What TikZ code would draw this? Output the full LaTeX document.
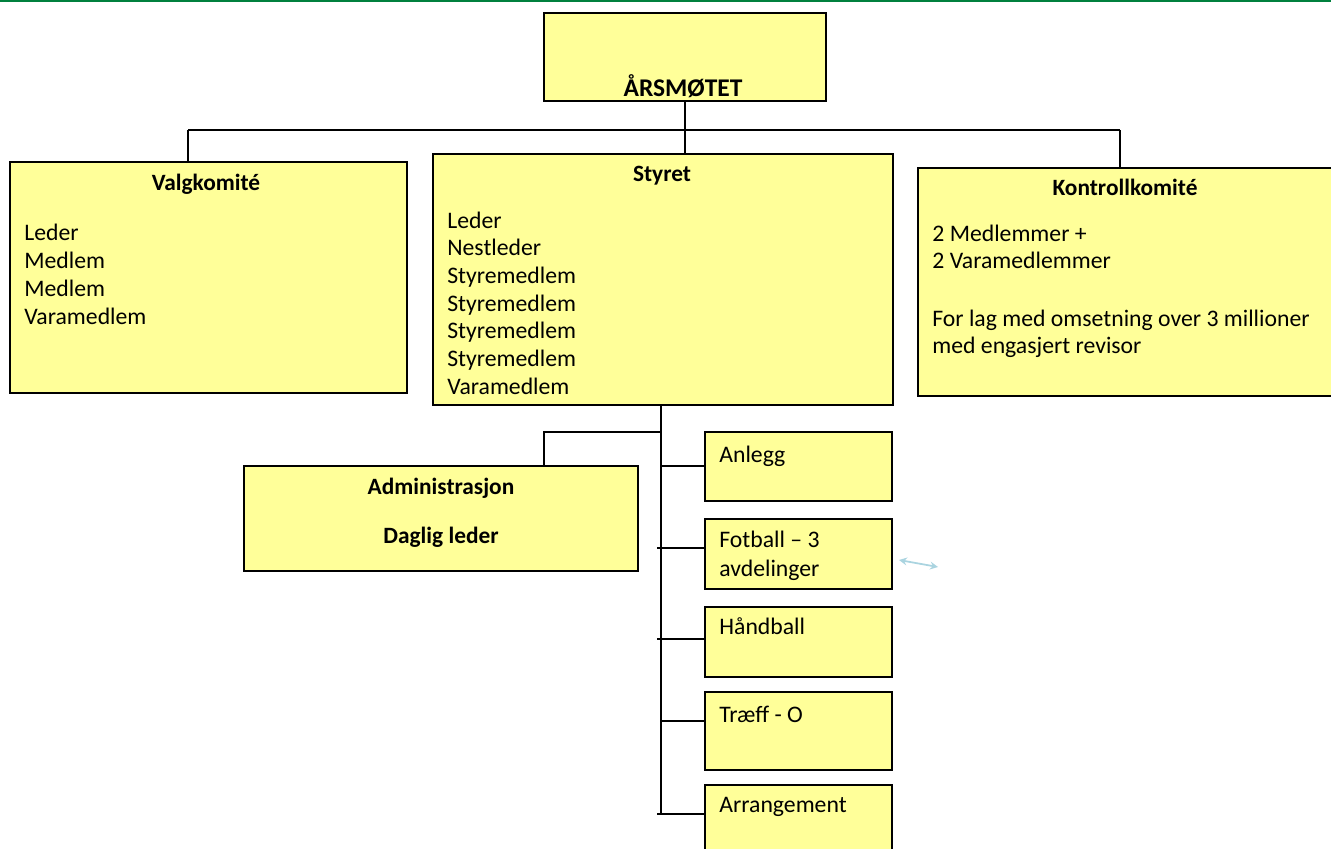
\documentclass[tikz,border=0pt]{standalone}
\usepackage{fontspec}
\setmainfont{Carlito}
\usepackage{tikz}

\definecolor{boxyellow}{RGB}{255,255,153}
\definecolor{topgreen}{RGB}{0,128,62}
\definecolor{faintblue}{RGB}{170,212,224}

\tikzset{
	box/.style={shape=rectangle,draw=black,fill=boxyellow,line width=1.2pt,inner sep=0pt},
	title/.style={anchor=base,inner sep=0pt,font=\fontsize{13.3}{16}\selectfont\bfseries},
	item/.style={anchor=base west,inner sep=0pt,font=\fontsize{13.5}{16}\selectfont},
	link/.style={draw=black,line width=1.2pt}
}

\begin{document}
\begin{tikzpicture}[x=0.02cm,y=-0.02cm]
	
	\useasboundingbox (0,0) rectangle (1331,848);
	\clip (0,0) rectangle (1331,848);
	\fill[topgreen] (0,0) rectangle (1331,2);
	
	% boxes
	\node[box,minimum width=5.64cm,minimum height=1.76cm] (aars) at (685,57) {};
	\node[box,minimum width=7.94cm,minimum height=4.62cm] (velg) at (208.5,277.5) {};
	\node[box,minimum width=9.2cm,minimum height=5.02cm] (styret) at (663,279.5) {};
	\node[box,minimum width=8.44cm,minimum height=4.56cm] (kontroll) at (1129,282) {};
	\node[box,minimum width=7.88cm,minimum height=2.1cm] (admin) at (441,518.5) {};
	\node[box,minimum width=3.74cm,minimum height=1.38cm] (anlegg) at (798.5,466.5) {};
	\node[box,minimum width=3.74cm,minimum height=1.4cm] (fotball) at (798.5,554) {};
	\node[box,minimum width=3.74cm,minimum height=1.4cm] (handball) at (798.5,642) {};
	\node[box,minimum width=3.74cm,minimum height=1.56cm] (traeff) at (798.5,731) {};
	\node[box,minimum width=3.74cm,minimum height=1.7cm] (arrang) at (798.5,827.5) {};
	
	% texts
	\node[title,font=\fontsize{14.5}{17}\selectfont\bfseries] (aars-t) at (683,96) {ÅRSMØTET};
	\node[title] (velg-t) at (206,190) {Valgkomité};
	\node[title] (styret-t) at (662,181) {Styret};
	\node[title] (kontroll-t) at (1125,195) {Kontrollkomité};
	\node[title] (admin-t) at (441,494) {Administrasjon};
	\node[title] (admin-l) at (441,543) {Daglig leder};
	
	\foreach \t [count=\i] in {Leder,Medlem,Medlem,Varamedlem}
		\node[item] (velg-\i) at (24,{240+28*(\i-1)}) {\t};
	\foreach \t [count=\i] in {Leder,Nestleder,Styremedlem,Styremedlem,Styremedlem,Styremedlem,Varamedlem}
		\node[item] (styret-\i) at (447,{228+27.7*(\i-1)}) {\t};
	
	\node[item] (kontroll-1) at (932,241.7) {2 Medlemmer +};
	\node[item] (kontroll-2) at (932,268) {2 Varamedlemmer};
	\node[item] (kontroll-3) at (932,326.7) {For lag med omsetning over 3 millioner};
	\node[item] (kontroll-4) at (932,353) {med engasjert revisor};
	
	\node[item] (anlegg-t) at (719,462) {Anlegg};
	\node[item] (fotball-t) at (719,547) {Fotball – 3};
	\node[item] (fotball-u) at (719,576) {avdelinger};
	\node[item] (handball-t) at (719,634) {Håndball};
	\node[item] (traeff-t) at (719,722) {Træff - O};
	\node[item] (arrang-t) at (719,812) {Arrangement};
	
	% connectors
	\coordinate (bar-l) at (188,130);
	\coordinate (bar-r) at (1120,130);
	\coordinate (bar-m) at (685,130);
	\path[link] (bar-l) -- (bar-r);
	\path[link] (aars.south) -- (bar-m);
	\path[link] (bar-m) -- (bar-m |- styret.north);
	\path[link] (bar-l) -- (bar-l |- velg.north);
	\path[link] (bar-r) -- (bar-r |- kontroll.north);
	
	\coordinate (spine-top) at (661,405);
	\coordinate (spine-end) at (661,815);
	\coordinate (adm-j) at (661,432);
	\coordinate (adm-k) at (544,432);
	\path[link] (spine-top) -- (spine-end);
	\path[link] (adm-j) -- (adm-k) -- (adm-k |- admin.north);
	
	\foreach \n/\x/\y in {anlegg/661/466,fotball/657/548,handball/657/639,traeff/661/721,arrang/657/814}{
		\coordinate (tap-\n) at (\x,\y);
		\path[link] (tap-\n) -- (tap-\n -| \n.west);
	}
	
	\coordinate (hint-a) at (899,560);
	\coordinate (hint-b) at (938,567);
	\draw[faintblue,line width=1pt,<->,>=stealth] (hint-a) -- (hint-b);
	
\end{tikzpicture}
\end{document}
